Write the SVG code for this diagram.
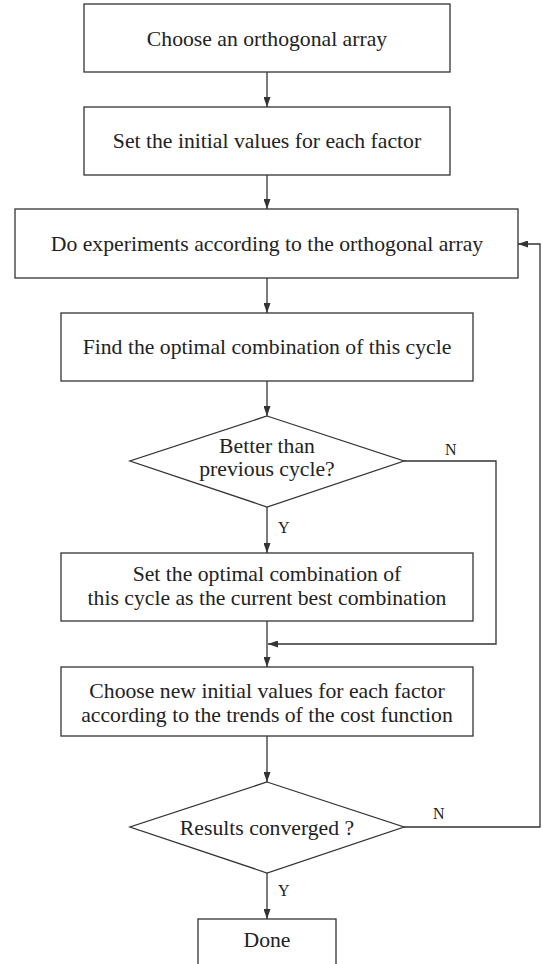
<svg xmlns="http://www.w3.org/2000/svg" width="543" height="964" viewBox="0 0 543 964">
<style>
.box{fill:#fff;stroke:#333;stroke-width:1.3}
.edge{fill:none;stroke:#333;stroke-width:1.3}
.t{font-family:'Liberation Serif','DejaVu Serif',Tinos,'Times New Roman',Times,serif;font-size:21.7px;fill:#222;text-anchor:middle}
.l{font-family:'Liberation Serif','DejaVu Serif',Tinos,'Times New Roman',Times,serif;font-size:16px;fill:#222}
</style>
<defs>
<marker id="arr" markerUnits="userSpaceOnUse" markerWidth="10" markerHeight="7" refX="10" refY="3.5" orient="auto">
<path d="M0,0 L10,3.5 L0,7 z" fill="#333"/>
</marker>
</defs>
<rect width="543" height="964" fill="#fff"/>
<g id="connectors">
<path class="edge" d="M267,72 V107" marker-end="url(#arr)"/>
<path class="edge" d="M267,175 V209" marker-end="url(#arr)"/>
<path class="edge" d="M267,278 V313" marker-end="url(#arr)"/>
<path class="edge" d="M267,381 V416" marker-end="url(#arr)"/>
<path class="edge" d="M267,507 V553" marker-end="url(#arr)"/>
<path class="edge" d="M267,621 V667" marker-end="url(#arr)"/>
<path class="edge" d="M404,461 H496 V644 H268" marker-end="url(#arr)"/>
<path class="edge" d="M267,736 V782" marker-end="url(#arr)"/>
<path class="edge" d="M267,873 V919" marker-end="url(#arr)"/>
<path class="edge" d="M404,827 H540 V244 H518" marker-end="url(#arr)"/>
<text class="l" x="445" y="455" font-family="Liberation Serif, serif">N</text>
<text class="l" x="278" y="533" font-family="Liberation Serif, serif">Y</text>
<text class="l" x="433" y="819" font-family="Liberation Serif, serif">N</text>
<text class="l" x="278" y="896" font-family="Liberation Serif, serif">Y</text>
</g>
<g id="n1">
<rect class="box" x="84" y="4" width="366" height="68"/>
<text class="t" x="267" y="46">Choose an orthogonal array</text>
</g>
<g id="n2">
<rect class="box" x="84" y="107" width="366" height="68"/>
<text class="t" x="267" y="148">Set the initial values for each factor</text>
</g>
<g id="n3">
<rect class="box" x="15" y="209" width="503" height="69"/>
<text class="t" x="267" y="251">Do experiments according to the orthogonal array</text>
</g>
<g id="n4">
<rect class="box" x="61" y="313" width="412" height="68"/>
<text class="t" x="267" y="354">Find the optimal combination of this cycle</text>
</g>
<g id="n5">
<polygon class="box" points="267,416 404,461 267,507 130,461"/>
<text class="t" x="267" y="453">Better than</text>
<text class="t" x="267" y="476">previous cycle?</text>
</g>
<g id="n6">
<rect class="box" x="61" y="553" width="412" height="68"/>
<text class="t" x="267" y="581">Set the optimal combination of</text>
<text class="t" x="267" y="605">this cycle as the current best combination</text>
</g>
<g id="n7">
<rect class="box" x="61" y="667" width="412" height="69"/>
<text class="t" x="267" y="698">Choose new initial values for each factor</text>
<text class="t" x="267" y="722">according to the trends of the cost function</text>
</g>
<g id="n8">
<polygon class="box" points="267,782 404,827 267,873 130,827"/>
<text class="t" x="267" y="835">Results converged ?</text>
</g>
<g id="n9">
<rect class="box" x="198" y="919" width="138" height="50"/>
<text class="t" x="267" y="947">Done</text>
</g>
</svg>
